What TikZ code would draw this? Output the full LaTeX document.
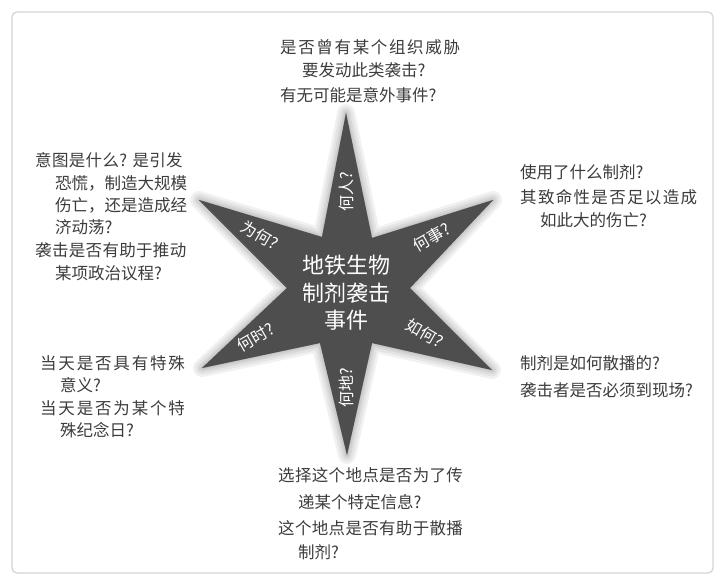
\documentclass[tikz,border=0pt]{standalone}
\usepackage{fontspec}
\newfontfamily\cjk{Noto Sans CJK SC}
\definecolor{txtgray}{RGB}{60,60,60}
\definecolor{starfill}{RGB}{78,78,78}
\definecolor{framegray}{RGB}{212,212,212}
\begin{document}
\begin{tikzpicture}[x=1pt,y=-1pt,
  starshape/.style={insert path={(346,113) -- (372,238) -- (493,200) -- (410,288) -- (492,370) -- (372,343) -- (347,455) -- (320,343) -- (202,368) -- (287,288) -- (199,200) -- (322,237) -- cycle}},
  qtext/.style={anchor=west, inner sep=0pt, text=txtgray, font=\cjk\fontsize{16.5}{20}\selectfont},
  qls/.style={font=\cjk\fontsize{16.5}{20}\selectfont\addfontfeatures{LetterSpace=#1}},
  armlbl/.style={inner sep=0pt, text=white, font=\cjk\fontsize{16}{18}\selectfont},
  centerlbl/.style={inner sep=0pt, text=white, align=center, font=\cjk\fontsize{22}{27.5}\selectfont}
]
\useasboundingbox (0,0) rectangle (727,582);
% frame
\draw[framegray, line width=1.3pt, rounded corners=5pt] (12,12) rectangle (713,573);
% soft shadow, lower right
\foreach \w in {18,13,8,4,1}{
  \path[starshape, fill=black, draw=black, fill opacity=0.055, draw opacity=0.055, line width=\w pt, line join=round, shift={(11,9)}];
}
% star
\path[starshape, fill=starfill];
% center text
\node[centerlbl] (c) at (346,293) {地铁生物\\制剂袭击\\事件};
% arm labels
\node[armlbl, rotate=90] (a1) at (346,192) {何人?};
\node[armlbl, rotate=30] (a2) at (432,237) {何事?};
\node[armlbl, rotate=-30] (a3) at (425,333) {如何?};
\node[armlbl, rotate=90] (a4) at (346,388) {何地?};
\node[armlbl, rotate=30] (a5) at (256,337) {何时?};
\node[armlbl, rotate=-30] (a6) at (260,235) {为何?};
% top block
\node[qtext, qls=10] (tp1) at (280,47) {是否曾有某个组织威胁};
\node[qtext] (tp2) at (302,70) {要发动此类袭击?};
\node[qtext] (tp3) at (280,95) {有无可能是意外事件?};
% left upper block
\node[qtext, qls=2] (lu1) at (35,160) {意图是什么? 是引发};
\node[qtext] (lu2) at (55,183) {恐慌，制造大规模};
\node[qtext] (lu3) at (55,205) {伤亡，还是造成经};
\node[qtext] (lu4) at (55,227) {济动荡?};
\node[qtext, qls=2] (lu5) at (35,250) {袭击是否有助于推动};
\node[qtext] (lu6) at (55,273) {某项政治议程?};
% left lower block
\node[qtext, qls=11] (ll1) at (40,363) {当天是否具有特殊};
\node[qtext] (ll2) at (60,385) {意义?};
\node[qtext, qls=11] (ll3) at (40,408) {当天是否为某个特};
\node[qtext] (ll4) at (60,430) {殊纪念日?};
% right upper block
\node[qtext] (ru1) at (520,172) {使用了什么制剂?};
\node[qtext, qls=8] (ru2) at (520,197) {其致命性是否足以造成};
\node[qtext] (ru3) at (540,220) {如此大的伤亡?};
% right lower block
\node[qtext] (rl1) at (520,363) {制剂是如何散播的?};
\node[qtext] (rl2) at (520,390) {袭击者是否必须到现场?};
% bottom block
\node[qtext, qls=2] (bt1) at (278,475) {选择这个地点是否为了传};
\node[qtext] (bt2) at (298,502) {递某个特定信息?};
\node[qtext, qls=2] (bt3) at (278,528) {这个地点是否有助于散播};
\node[qtext] (bt4) at (298,552) {制剂?};
\end{tikzpicture}
\end{document}
